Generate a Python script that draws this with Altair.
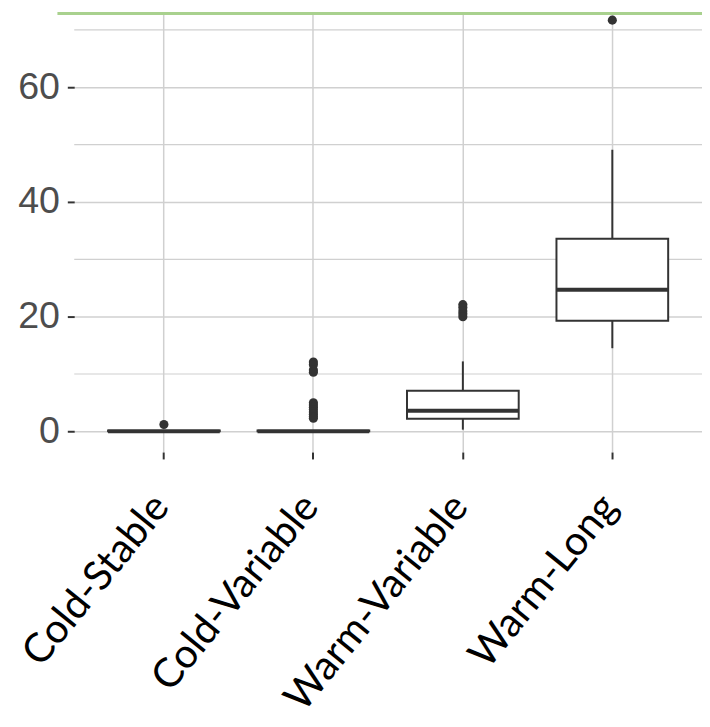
import altair as alt
import pandas as pd

# ---- data ----
categories = ["Cold-Stable", "Cold-Variable", "Warm-Variable", "Warm-Long"]
whisker_low = [0.0, 0.0, 0.3, 14.5]
q1 = [0.0, 0.0, 2.2, 19.3]
median = [0.0, 0.0, 3.6, 24.7]
q3 = [0.15, 0.15, 7.1, 33.6]
whisker_high = [0.0, 0.0, 12.2, 49.1]

outliers_cold_stable = [1.2]
outliers_cold_variable = [12.1, 11.6, 10.7, 10.3, 5.0, 4.6, 4.2, 3.8, 3.4, 3.0, 2.6, 2.3]
outliers_warm_variable = [22.1, 21.6, 21.0, 20.5, 20.0]
outliers_warm_long = [71.7]

major_ticks = [0, 20, 40, 60]
minor_ticks = [10, 30, 50, 70]

# ---- tables ----
box_df = pd.DataFrame({
    "category": categories,
    "lower": whisker_low,
    "q1": q1,
    "median": median,
    "q3": q3,
    "upper": whisker_high,
})
out_rows = []
for cat, vals in zip(categories, [outliers_cold_stable, outliers_cold_variable,
                                  outliers_warm_variable, outliers_warm_long]):
    for v in vals:
        out_rows.append({"category": cat, "value": v})
out_df = pd.DataFrame(out_rows)
minor_df = pd.DataFrame({"minor": minor_ticks})

W = 635
H = 445
DARK = "#333333"
GRID = "#d0d0d0"

xenc = alt.X(
    "category:N",
    sort=categories,
    scale=alt.Scale(domain=categories, paddingInner=0, paddingOuter=0.1, round=False),
    axis=alt.Axis(
        title=None, domain=False, grid=True, gridColor=GRID, gridWidth=1.5,
        tickColor=DARK, tickSize=7, tickWidth=2,
        labelAngle=-51, labelAlign="right", labelBaseline="alphabetic",
        labelFont="Lato", labelFontSize=41, labelColor="#000000",
        labelPadding=49, labelOffset=7, labelLimit=0, labelOverlap=False,
    ),
)
yscale = alt.Scale(domain=[-3.6, 73.1], nice=False, zero=False)
yaxis = alt.Axis(
    title=None, values=major_ticks, domain=False, grid=True,
    gridColor=GRID, gridWidth=1.5, tickColor=DARK, tickSize=7, tickWidth=2,
    labelFont="Liberation Sans", labelFontSize=38, labelColor="#4d4d4d",
    labelPadding=8,
)

minor_grid = alt.Chart(minor_df).mark_rule(color=GRID, strokeWidth=1.2).encode(
    y=alt.Y("minor:Q", scale=yscale, axis=yaxis),
    x=alt.value(0), x2=alt.value(W),
)

whiskers = alt.Chart(box_df).mark_rule(color=DARK, strokeWidth=2).encode(
    x=xenc,
    y=alt.Y("lower:Q", scale=yscale),
    y2="upper:Q",
)

boxes = alt.Chart(box_df).mark_bar(size=113, fill="white", stroke=DARK, strokeWidth=2).encode(
    x=alt.X("category:N", sort=categories),
    y=alt.Y("q1:Q", scale=yscale),
    y2="q3:Q",
)

medians = alt.Chart(box_df).mark_tick(size=113, thickness=4, color=DARK, opacity=1).encode(
    x=alt.X("category:N", sort=categories),
    y=alt.Y("median:Q", scale=yscale),
)

points = alt.Chart(out_df).mark_circle(size=85, color=DARK, opacity=1).encode(
    x=alt.X("category:N", sort=categories),
    y=alt.Y("value:Q", scale=yscale),
)

green = alt.Chart(pd.DataFrame({"a": [0]})).mark_rule(color="#a9d18e", strokeWidth=3).encode(
    x=alt.value(-17), x2=alt.value(W), y=alt.value(1.5),
)

chart = alt.layer(minor_grid, whiskers, boxes, medians, points, green).properties(
    width=W, height=H,
    background="white",
    autosize=alt.AutoSizeParams(type="none"),
    padding={"left": 67, "top": 0, "right": 0, "bottom": 274},
).configure_view(strokeWidth=0, stroke="transparent")

chart.save("out.html", embed_options={"renderer": "svg", "actions": False})
